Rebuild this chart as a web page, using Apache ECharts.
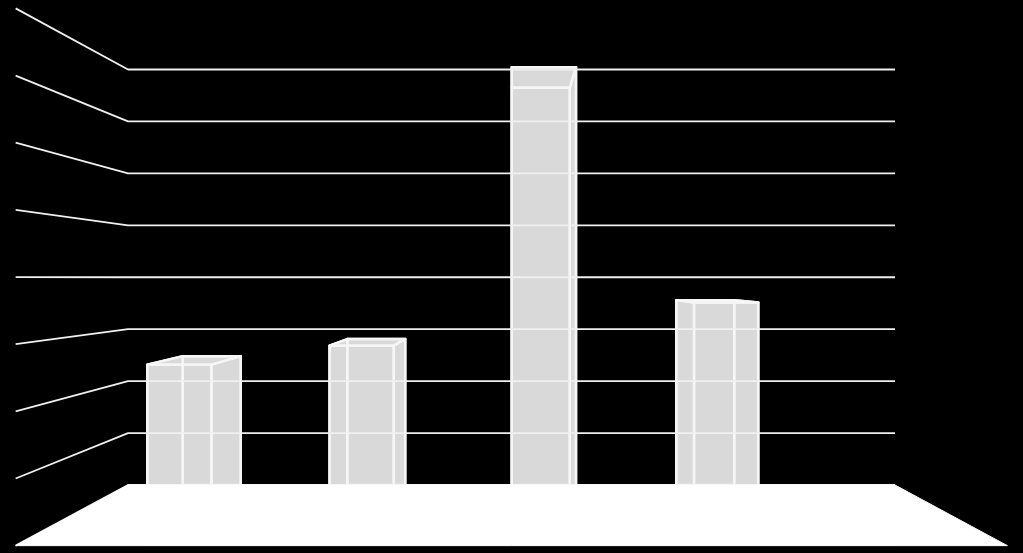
<!DOCTYPE html>
<html>
<head>
<meta charset="utf-8">
<style>html,body{margin:0;padding:0;background:#000}#c{width:1023px;height:553px}</style>
<script src="https://cdn.jsdelivr.net/npm/echarts@6/dist/echarts.min.js"></script>
</head>
<body>
<div id="c"></div>
<script>
var categories = ['1', '2', '3', '4'];
var barValues = [2.48, 2.81, 7.65, 3.56];
var wallTicks = [0, 1, 2, 3, 4, 5, 6, 7, 8];

var vanish = [511.5, 278];
var wallDepth = 1.293;
var barDepth = 1.108;
var barShare = 0.3526;
var lineCol = '#f0f0f0';

function project(p, s) {
  return [vanish[0] + (p[0] - vanish[0]) * s, vanish[1] + (p[1] - vanish[1]) * s];
}

function renderWall(params, api) {
  var v = api.value(1);
  var l = api.coord([0, v]);
  var r = api.coord([1, v]);
  return {
    type: 'polyline',
    shape: { points: [project(l, wallDepth), l, r] },
    style: { fill: null, stroke: lineCol, lineWidth: 1.8, lineJoin: 'round' }
  };
}

function renderFloor(params, api) {
  var l = api.coord([0, 0]);
  var r = api.coord([1, 0]);
  return {
    type: 'polygon',
    shape: { points: [l, r, project(r, wallDepth), project(l, wallDepth)] },
    style: { fill: '#ffffff', stroke: '#ffffff', lineWidth: 1 }
  };
}

function renderBar(params, api) {
  var c = api.value(0);
  var top = api.coord([c, api.value(1)]);
  var base = api.coord([c, 0]);
  var hw = api.size([1, 0])[0] * barShare / 2;
  var bl = [top[0] - hw, base[1]], br = [top[0] + hw, base[1]];
  var tl = [top[0] - hw, top[1]], tr = [top[0] + hw, top[1]];
  var fbl = project(bl, barDepth), fbr = project(br, barDepth);
  var ftl = project(tl, barDepth), ftr = project(tr, barDepth);
  var faces = [[bl, br, tr, tl], [bl, fbl, ftl, tl], [br, fbr, ftr, tr], [tl, tr, ftr, ftl], [fbl, fbr, ftr, ftl]];
  var children = faces.map(function (pts) {
    return { type: 'polygon', shape: { points: pts }, style: { fill: '#d9d9d9', stroke: null } };
  });
  faces.forEach(function (pts) {
    children.push({
      type: 'polygon', shape: { points: pts },
      style: { fill: null, stroke: '#f6f6f6', lineWidth: 2.4, lineJoin: 'round' }
    });
  });
  return { type: 'group', children: children };
}

var chart = echarts.init(document.getElementById('c'), null, { renderer: 'canvas' });
chart.setOption({
  backgroundColor: '#000000',
  animation: false,
  grid: [
    { left: 128, width: 767, top: 69.5, height: 415.5 },
    { left: 129.5, width: 658, top: 69.5, height: 415.5 }
  ],
  xAxis: [
    { type: 'value', gridIndex: 0, min: 0, max: 1, show: false },
    { type: 'category', gridIndex: 1, data: categories, show: false }
  ],
  yAxis: [
    { type: 'value', gridIndex: 0, min: 0, max: 8, interval: 1, show: false },
    { type: 'value', gridIndex: 1, min: 0, max: 8, interval: 1, show: false }
  ],
  series: [
    {
      type: 'custom', xAxisIndex: 1, yAxisIndex: 1, z: 2, silent: true,
      renderItem: renderBar,
      data: barValues.map(function (v, i) { return [i, v]; })
    },
    {
      type: 'custom', xAxisIndex: 0, yAxisIndex: 0, z: 3, silent: true,
      renderItem: renderWall,
      data: wallTicks.map(function (t) { return [0, t]; })
    },
    {
      type: 'custom', xAxisIndex: 0, yAxisIndex: 0, z: 4, silent: true,
      renderItem: renderFloor,
      data: [[0, 0]]
    }
  ]
});
</script>
</body>
</html>
